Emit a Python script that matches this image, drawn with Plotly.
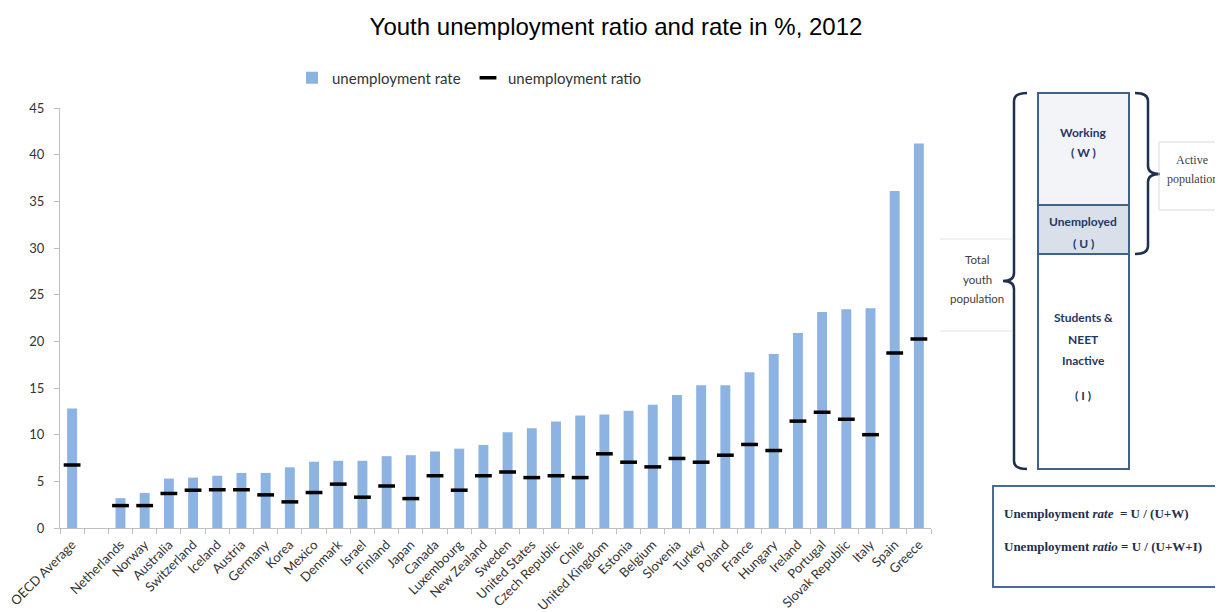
import plotly.graph_objects as go

countries = ["OECD Average", " ", "Netherlands", "Norway", "Australia", "Switzerland", "Iceland",
             "Austria", "Germany", "Korea", "Mexico", "Denmark", "Israel", "Finland", "Japan",
             "Canada", "Luxembourg", "New Zealand", "Sweden", "United States", "Czech Republic",
             "Chile", "United Kingdom", "Estonia", "Belgium", "Slovenia", "Turkey", "Poland",
             "France", "Hungary", "Ireland", "Portugal", "Slovak Republic", "Italy", "Spain", "Greece"]

unemployment_rate = [12.8, None, 3.2, 3.75, 5.3, 5.4, 5.6, 5.9, 5.9, 6.5, 7.1, 7.2, 7.2, 7.7, 7.8,
                     8.2, 8.5, 8.9, 10.25, 10.7, 11.4, 12.05, 12.15, 12.55, 13.2, 14.25, 15.3, 15.3,
                     16.7, 18.65, 20.9, 23.15, 23.45, 23.55, 36.1, 41.2]

unemployment_ratio = [6.75, None, 2.4, 2.4, 3.7, 4.05, 4.1, 4.1, 3.55, 2.8, 3.8, 4.7, 3.3, 4.5, 3.15,
                      5.6, 4.05, 5.6, 6.0, 5.4, 5.6, 5.4, 7.95, 7.05, 6.55, 7.45, 7.05, 7.8,
                      8.95, 8.3, 11.45, 12.4, 11.65, 10.0, 18.75, 20.25]

y_ticks = [0, 5, 10, 15, 20, 25, 30, 35, 40, 45]

W, H = 1223, 612
OFF = 8  # page body margin: figure pixel = screen pixel - OFF
# plot area in screen pixels
L, R, T, B = 60, 931, 108, 528


def PX(x):
    return (x - L) / (R - L)


def PY(y):
    return (B - y) / (B - T)


def CX(x):  # container fraction from screen pixel
    return (x - OFF) / W


def CY(y):
    return 1 - (y - OFF) / H


def path(points):
    s = ""
    for cmd, pts in points:
        s += cmd + " " + " ".join(f"{PX(x):.5f},{PY(y):.5f}" for x, y in pts) + " "
    return s.strip()


fig = go.Figure()
fig.add_trace(go.Bar(x=countries, y=unemployment_rate, name="unemployment rate",
                     marker=dict(color="#8db3e2", line=dict(width=0)), width=0.41))
fig.add_trace(go.Scatter(x=countries, y=unemployment_ratio, name="unemployment ratio", mode="markers",
                         marker=dict(symbol="line-ew", size=12, color="black",
                                     line=dict(width=3.5, color="black"))))

navy = "#1f3864"
shapes = []
annotations = []

# diagram column
shapes.append(dict(type="rect", xref="paper", yref="paper", x0=PX(1038), x1=PX(1129), y0=PY(205), y1=PY(93),
                   fillcolor="#f2f4f8", line=dict(color="#41618f", width=2)))
shapes.append(dict(type="rect", xref="paper", yref="paper", x0=PX(1038), x1=PX(1129), y0=PY(254), y1=PY(205),
                   fillcolor="#d9e0ea", line=dict(color="#41618f", width=2)))
shapes.append(dict(type="rect", xref="paper", yref="paper", x0=PX(1038), x1=PX(1129), y0=PY(469), y1=PY(254),
                   fillcolor="white", line=dict(color="#41618f", width=2)))

# left brace
shapes.append(dict(type="path", xref="paper", yref="paper",
                   path=path([("M", [(1027, 93)]), ("Q", [(1014, 93), (1014, 101)]), ("L", [(1014, 273)]),
                              ("Q", [(1014, 281), (1003, 281)]), ("Q", [(1014, 281), (1014, 289)]),
                              ("L", [(1014, 461)]), ("Q", [(1014, 469), (1027, 469)])]),
                   line=dict(color="#1f2f4f", width=2.5)))
# right brace
shapes.append(dict(type="path", xref="paper", yref="paper",
                   path=path([("M", [(1135, 93)]), ("Q", [(1148, 93), (1148, 101)]), ("L", [(1148, 166)]),
                              ("Q", [(1148, 174), (1160, 174)]), ("Q", [(1148, 174), (1148, 182)]),
                              ("L", [(1148, 246)]), ("Q", [(1148, 254), (1135, 254)])]),
                   line=dict(color="#1f2f4f", width=2.5)))

# faint text box edges
for yy in (239, 331):
    shapes.append(dict(type="line", xref="paper", yref="paper", x0=PX(940), x1=PX(1012), y0=PY(yy), y1=PY(yy),
                       line=dict(color="#e3e3e3", width=1)))
# active population box
shapes.append(dict(type="rect", xref="paper", yref="paper", x0=PX(1159), x1=PX(1232), y0=PY(210), y1=PY(142),
                   fillcolor="rgba(0,0,0,0)", line=dict(color="#d9d9d9", width=1)))
# formula box
shapes.append(dict(type="rect", xref="paper", yref="paper", x0=PX(993), x1=PX(1232), y0=PY(587), y1=PY(486),
                   fillcolor="rgba(0,0,0,0)", line=dict(color="#4a6a9c", width=2)))


def ann(text, x, y, font, xanchor="center"):
    annotations.append(dict(text=text, x=PX(x), y=PY(y), xref="paper", yref="paper", showarrow=False,
                            xanchor=xanchor, yanchor="middle", font=font))


bold_font = dict(family="Lato", size=12, color=navy)
for txt, yy in [("<b>Working</b>", 132), ("<b>( W )</b>", 153), ("<b>Unemployed</b>", 221),
                ("<b>( U )</b>", 243), ("<b>Students &amp;</b>", 317), ("<b>NEET</b>", 339),
                ("<b>Inactive</b>", 360), ("<b>( I )</b>", 395)]:
    ann(txt, 1083, yy, bold_font)

gray_font = dict(family="Lato", size=11.5, color="#404040")
for txt, yy in [("Total", 259), ("youth", 279), ("population", 298)]:
    ann(txt, 977, yy, gray_font)

serif_font = dict(family="Liberation Serif", size=12, color="#404040")
ann("Active", 1192, 160, serif_font)
ann("population", 1192, 179, serif_font)

formula_font = dict(family="Liberation Serif", size=13, color="#1f2f4f")
ann("<b>Unemployment <i>rate</i>  = U / (U+W)</b>", 1002, 513, formula_font, "left")
ann("<b>Unemployment <i>ratio</i> = U / (U+W+I)</b>", 1002, 546, formula_font, "left")

fig.update_layout(
    width=W, height=H,
    margin=dict(l=L - OFF, r=W - (R - OFF), t=T - OFF, b=H - (B - OFF), autoexpand=False),
    paper_bgcolor="white", plot_bgcolor="white",
    title=dict(text="Youth unemployment ratio and rate in %, 2012", x=CX(616), xanchor="center",
               y=CY(27), yanchor="middle", yref="container",
               font=dict(family="Liberation Sans", size=24, color="black")),
    font=dict(family="Lato", size=13, color="#333333"),
    showlegend=True,
    legend=dict(orientation="h", xref="container", yref="container", x=CX(292), xanchor="left",
                y=CY(78), yanchor="middle", entrywidth=131, entrywidthmode="pixels",
                font=dict(family="Lato", size=15, color="#333333"), bgcolor="rgba(0,0,0,0)"),
    bargap=0.59,
    xaxis=dict(type="category", categoryorder="array", categoryarray=countries, range=[-0.5, 35.5],
               automargin=False, ticklabelstandoff=3,
               showline=True, linecolor="#bfbfbf", linewidth=1, ticks="outside", tickson="boundaries",
               ticklen=5, tickcolor="#bfbfbf", tickangle=-45, showgrid=False,
               tickfont=dict(family="Lato", size=13, color="#333333")),
    yaxis=dict(range=[0, 45], tickvals=y_ticks, showline=True, linecolor="#bfbfbf", linewidth=1,
               automargin=False, ticklabelstandoff=7,
               ticks="outside", ticklen=5, tickcolor="#bfbfbf", showgrid=False, zeroline=False,
               tickfont=dict(family="Lato", size=13, color="#333333")),
    shapes=shapes,
    annotations=annotations,
)

fig.write_html("out.html")
